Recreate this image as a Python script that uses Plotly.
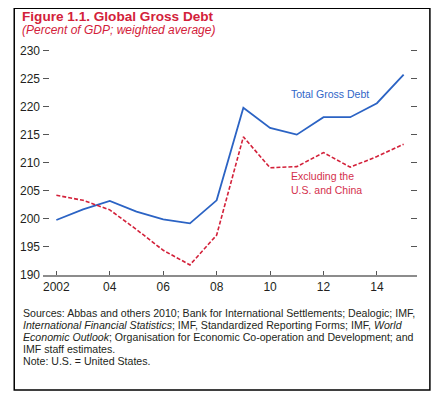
import plotly.graph_objects as go

years = list(range(2002, 2016))
total_gross_debt = [199.8, 201.7, 203.2, 201.3, 199.9, 199.2, 203.3, 219.8, 216.2, 215.0, 218.1, 218.1, 220.6, 225.7]
excl_us_china = [204.2, 203.3, 201.6, 198.1, 194.4, 191.8, 197.1, 214.6, 209.1, 209.3, 211.8, 209.2, 211.1, 213.3]
x_tickvals = [2002, 2004, 2006, 2008, 2010, 2012, 2014]
x_ticktext = ["2002", "04", "06", "08", "10", "12", "14"]
y_tickvals = [190, 195, 200, 205, 210, 215, 220, 225, 230]

# page body has an 8px margin; figure is sized to fit the window exactly
OFF = 8
W, H = 440 - OFF, 399 - OFF
# plot area in screen pixels: x 40..417, y 49.2..275 (230 sits at ~50.6)
L = 40 - OFF
R = W - (417 - OFF)
T = 49.2 - OFF
B = H - (275 - OFF)
PW, PH = W - L - R, H - T - B

def px(x):
    return (x - OFF - L) / PW

def py(y):
    return (H - B - (y - OFF)) / PH

RED = "#d3213a"
BLUE = "#2b63c4"
TXT = "#231f20"
FONT = "Liberation Sans, Arial, sans-serif"

fig = go.Figure()
fig.add_trace(go.Scatter(x=years, y=total_gross_debt, mode="lines",
                         line=dict(color=BLUE, width=1.8), name="Total Gross Debt"))
fig.add_trace(go.Scatter(x=years, y=excl_us_china, mode="lines",
                         line=dict(color=RED, width=1.6, dash="4px,2px"),
                         name="Excluding the U.S. and China"))

fig.update_layout(
    width=W, height=H,
    margin=dict(l=L, r=R, t=T, b=B, pad=0),
    paper_bgcolor="white", plot_bgcolor="white",
    showlegend=False,
    font=dict(family=FONT, size=11, color=TXT),
    xaxis=dict(range=[2001.5, 2015.5], tickvals=x_tickvals, ticktext=x_ticktext,
               showgrid=False, zeroline=False, showline=True, linecolor="#8c8c8c",
               linewidth=1.5, ticks="inside", ticklen=4, tickcolor="#555",
               tickwidth=1, tickfont=dict(size=12, color=TXT)),
    yaxis=dict(range=[190, 230.25], tickvals=y_tickvals, showgrid=False, zeroline=False,
               showline=False, ticks="inside", ticklen=6, tickcolor="#555",
               tickwidth=1.2, mirror="ticks", ticklabelstandoff=2,
               tickfont=dict(size=12, color=TXT)),
)

fig.add_shape(type="rect", xref="paper", yref="paper",
              x0=px(11), x1=px(430), y0=py(390), y1=py(8.5),
              line=dict(color="black", width=1.5), fillcolor="rgba(0,0,0,0)")

def note(text, x, y, size, color=TXT, anchor="middle"):
    fig.add_annotation(text=text, xref="paper", yref="paper", x=px(x), y=py(y),
                       xanchor="left", yanchor=anchor, showarrow=False,
                       font=dict(family=FONT, size=size, color=color), align="left")

note("<b>Figure 1.1. Global Gross Debt</b>", 17, 16.5, 13.6, RED)
note("<i>(Percent of GDP; weighted average)</i>", 17, 30, 12, RED)

sources = [
    "Sources: Abbas and others 2010; Bank for International Settlements; Dealogic; IMF,",
    "<i>International Financial Statistics</i>; IMF, Standardized Reporting Forms; IMF, <i>World</i>",
    "<i>Economic Outlook</i>; Organisation for Economic Co-operation and Development; and",
    "IMF staff estimates.",
    "Note: U.S. = United States.",
]
for i, s in enumerate(sources):
    note(s, 18, 313 + 12 * i, 10.6)

fig.add_annotation(text="Total Gross Debt", x=2010.7, y=222.3, xref="x", yref="y",
                   xanchor="left", yanchor="middle", showarrow=False,
                   font=dict(family=FONT, size=10.5, color="#2f66c8"))
fig.add_annotation(text="Excluding the<br>U.S. and China", x=2010.7, y=206.3, xref="x", yref="y",
                   xanchor="left", yanchor="middle", showarrow=False, align="left",
                   font=dict(family=FONT, size=10.5, color="#d42f4c"))

fig.write_html("out.html")
